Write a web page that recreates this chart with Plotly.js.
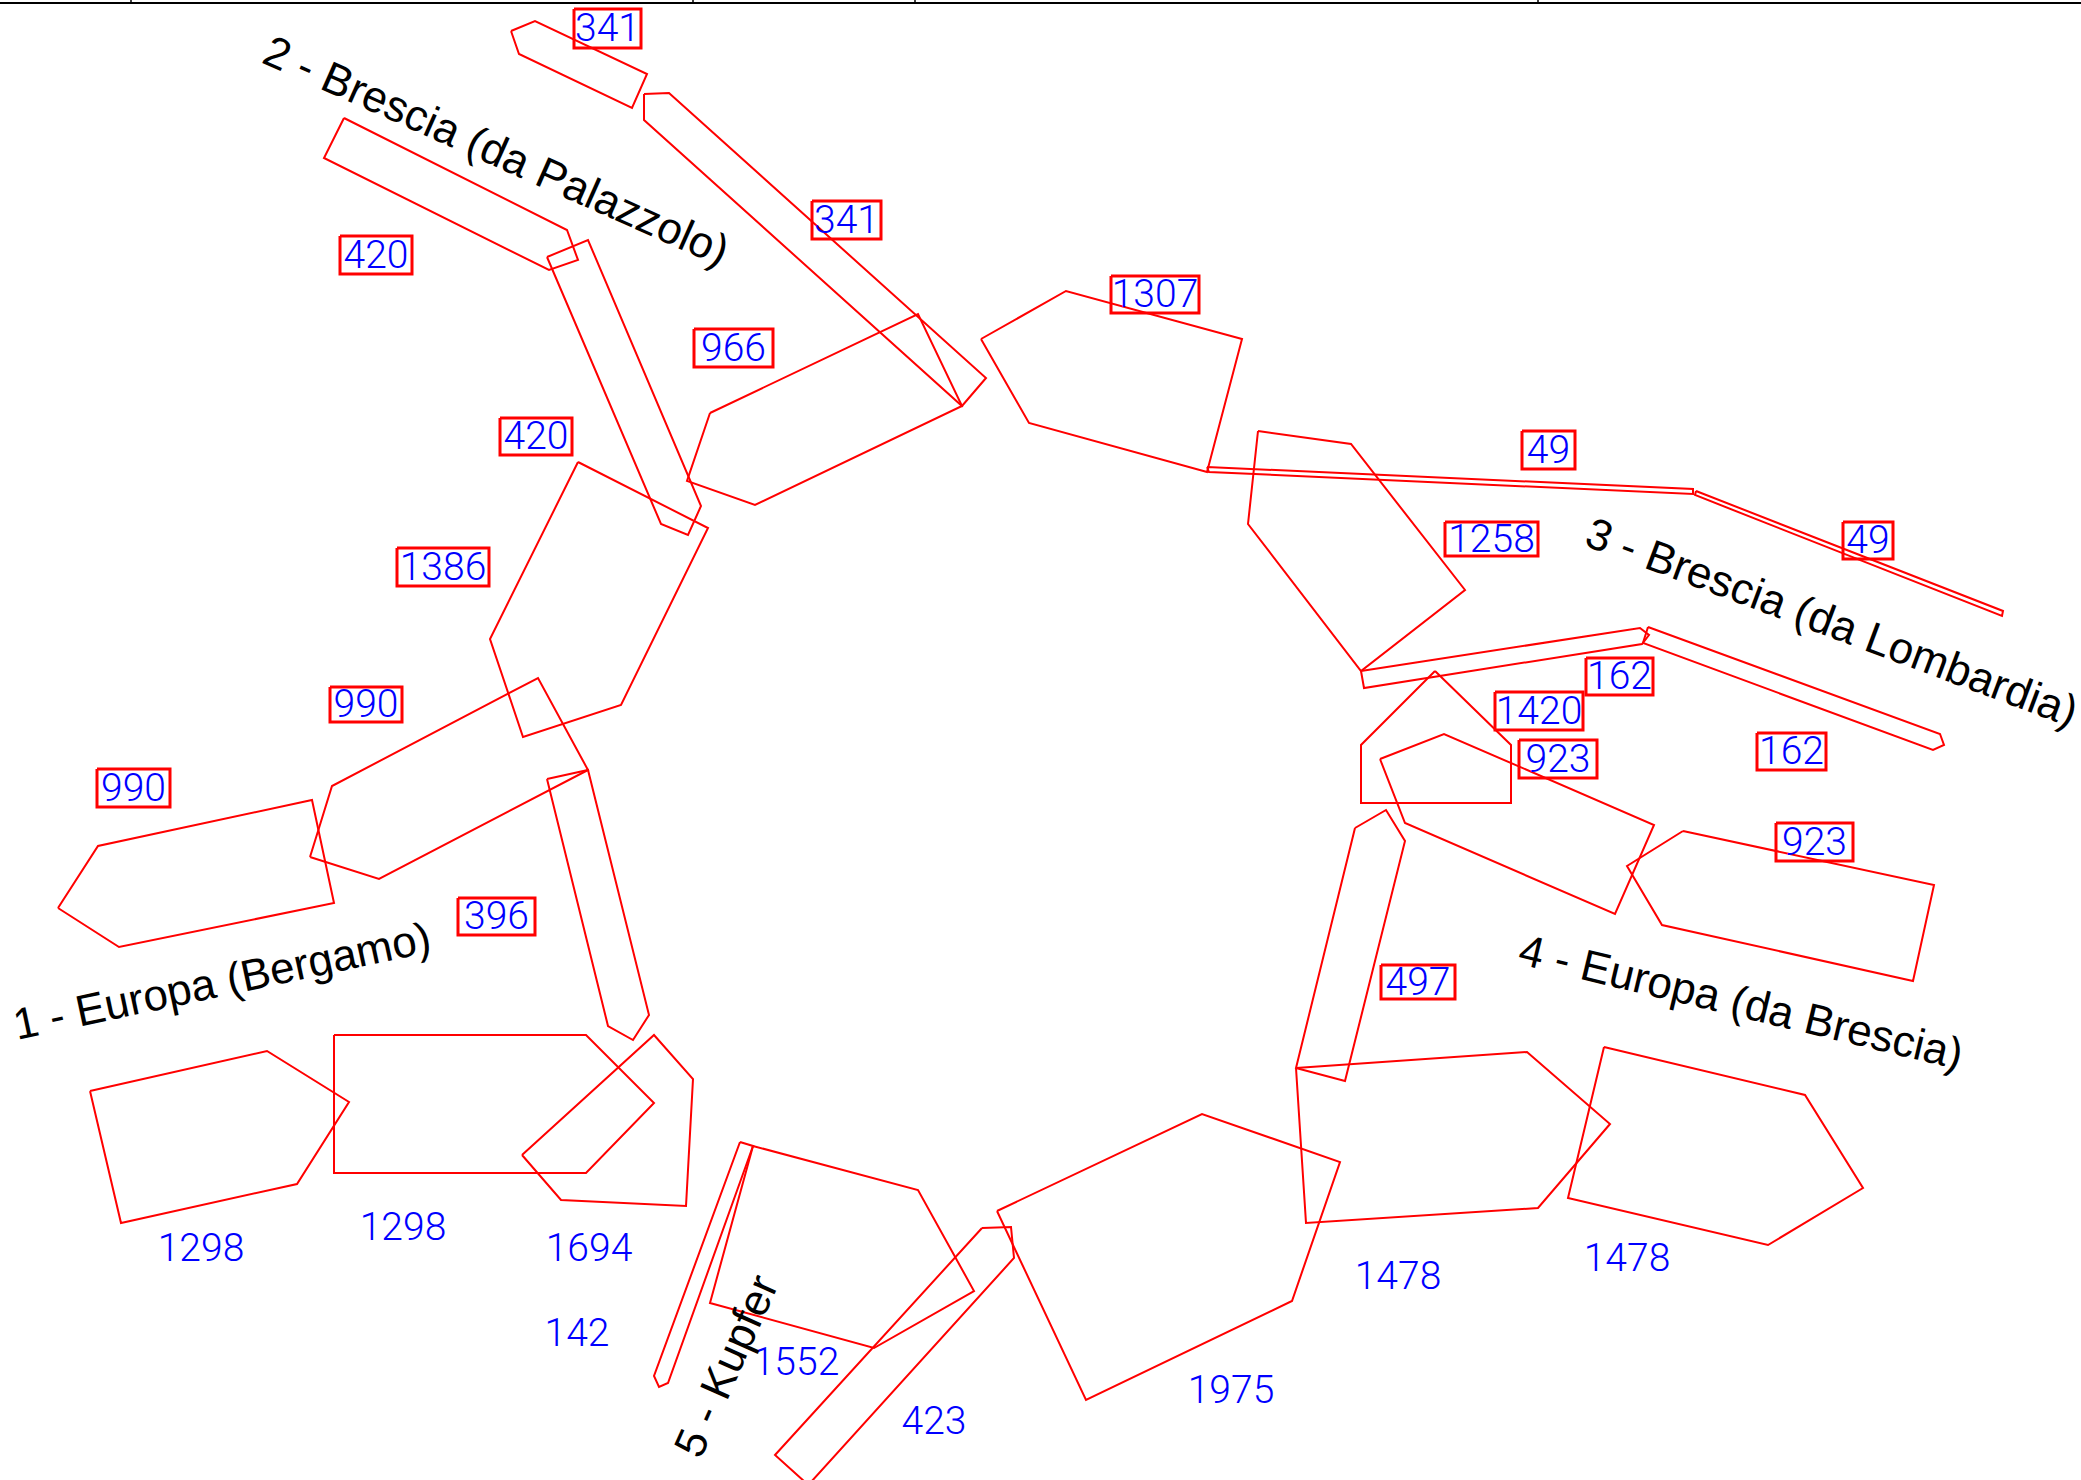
<!DOCTYPE html>
<html><head><meta charset="utf-8">
<script src="https://cdn.plot.ly/plotly-3.0.1.min.js"></script>
<style>html,body{margin:0;padding:0;background:#fff}#chart{width:2081px;height:1480px}</style>
</head><body><div id="chart"></div>
<script>
// Outlines, as [x, y] vertices in drawing units
const europaBergamo = [
  [[58,908],[98,846],[312,800],[334,903],[119,947]],
  [[310,857],[332,786],[538,678],[588,770],[379,879]],
  [[547,779],[588,770],[649,1015],[633,1040],[608,1026]],
  [[90,1091],[267,1051],[349,1102],[297,1184],[121,1223]],
  [[334,1035],[586,1035],[654,1103],[586,1173],[334,1173]],
  [[522,1155],[654,1035],[693,1079],[686,1206],[561,1200]]
];
const bresciaPalazzolo = [
  [[511,31],[535,21],[647,74],[632,108],[519,54]],
  [[644,94],[669,93],[986,378],[962,406],[644,120]],
  [[344,118],[567,230],[578,260],[549,270],[324,158]],
  [[547,257],[588,240],[701,506],[688,535],[661,524]],
  [[710,413],[918,314],[962,406],[755,505],[687,481]],
  [[578,462],[708,528],[621,705],[523,737],[490,639]]
];
const bresciaLombardia = [
  [[981,339],[1066,291],[1242,339],[1207,472],[1029,423]],
  [[1207,467],[1693,489],[1693,494],[1209,472]],
  [[1696,491],[2003,611],[2002,616],[1695,495]],
  [[1258,431],[1351,444],[1465,590],[1361,671],[1248,524]],
  [[1361,671],[1640,628],[1649,635],[1642,644],[1364,688]],
  [[1648,627],[1940,734],[1944,745],[1933,750],[1643,643]]
];
const europaBrescia = [
  [[1435,671],[1511,745],[1511,803],[1361,803],[1361,745]],
  [[1380,759],[1444,734],[1654,825],[1615,914],[1405,823]],
  [[1683,831],[1934,885],[1913,981],[1662,925],[1627,866]],
  [[1355,828],[1386,810],[1405,841],[1345,1081],[1296,1068]],
  [[1296,1068],[1527,1052],[1610,1124],[1538,1208],[1306,1223]],
  [[1604,1047],[1805,1095],[1863,1188],[1768,1245],[1568,1198]],
  [[997,1211],[1202,1114],[1340,1162],[1292,1301],[1086,1400]]
];
const kupfer = [
  [[740,1142],[753,1146],[668,1383],[659,1387],[654,1376]],
  [[753,1146],[918,1190],[974,1291],[874,1348],[710,1303]],
  [[982,1228],[1011,1227],[1014,1258],[811,1482],[805,1482],[775,1455]]
];
// Boxed number labels: text, box left, right, top, bottom
const boxedLabels = [
  ["341",574,641,9,48],["341",812,881,201,239],["420",340,412,236,274],
  ["966",694,773,329,367],["420",500,572,418,455],["1386",397,489,548,586],
  ["990",330,402,687,722],["990",97,170,769,807],["396",458,535,898,935],
  ["1307",1111,1199,276,313],["49",1522,1575,431,469],["1258",1445,1538,522,556],
  ["49",1843,1893,522,559],["162",1586,1653,658,695],["1420",1495,1583,692,730],
  ["923",1519,1597,740,778],["162",1757,1826,733,770],["923",1776,1853,823,861],
  ["497",1381,1455,965,999]
];
// Plain number labels: text, x, y
const plainLabels = [
  ["1298",201,1248],["1298",403,1227],["1694",589,1248],["142",577,1333],
  ["1552",796,1362],["423",934,1421],["1975",1231,1390],["1478",1398,1276],["1478",1627,1258]
];
// Group names: text, x, y, angle
const groupNames = [
  ["1 - Europa (Bergamo)",222,980,-12],
  ["2 - Brescia (da Palazzolo)",497,150,24],
  ["3 - Brescia (da Lombardia)",1832,621,20.5],
  ["4 - Europa (da Brescia)",1741,1001,13.5],
  ["5 - Kupfer",725,1366,-66]
];
const topRuleTicks = [131,693,915,1538];

const RED="#ff0000", BLUE="#0000ff";
const traces=[];
[europaBergamo,bresciaPalazzolo,bresciaLombardia,europaBrescia,kupfer].forEach(g=>g.forEach(p=>{
  const c=p.concat([p[0]]);
  traces.push({type:"scatter",mode:"lines",x:c.map(v=>v[0]),y:c.map(v=>v[1]),line:{color:RED,width:2},hoverinfo:"skip"});
}));
boxedLabels.forEach(b=>{
  traces.push({type:"scatter",mode:"lines",x:[b[1],b[2],b[2],b[1],b[1]],y:[b[3],b[3],b[4],b[4],b[3]],line:{color:RED,width:3},hoverinfo:"skip"});
});
const numFont={family:"Roboto",size:39,color:BLUE,weight:300};
const textShift=3;
traces.push({type:"scatter",mode:"text",x:boxedLabels.map(b=>(b[1]+b[2])/2),y:boxedLabels.map(b=>(b[3]+b[4])/2+textShift),
  text:boxedLabels.map(b=>b[0]),textposition:"middle center",textfont:numFont,hoverinfo:"skip"});
traces.push({type:"scatter",mode:"text",x:plainLabels.map(b=>b[1]),y:plainLabels.map(b=>b[2]+textShift),
  text:plainLabels.map(b=>b[0]),textposition:"middle center",textfont:numFont,hoverinfo:"skip"});
// top rule and ticks
traces.push({type:"scatter",mode:"lines",x:[0,2081],y:[3,3],line:{color:"#000",width:2},hoverinfo:"skip"});
topRuleTicks.forEach(t=>traces.push({type:"scatter",mode:"lines",x:[t,t],y:[0,3],line:{color:"#000",width:1.5},hoverinfo:"skip"}));

const annotations=groupNames.map(n=>({text:n[0],x:n[1],y:n[2],xref:"x",yref:"y",textangle:n[3],showarrow:false,
  xanchor:"center",yanchor:"middle",font:{family:"Liberation Sans",size:44,color:"#000"}}));

Plotly.newPlot("chart",traces,{
  width:2081,height:1480,margin:{l:0,r:0,t:0,b:0},showlegend:false,
  paper_bgcolor:"#fff",plot_bgcolor:"#fff",
  xaxis:{range:[0,2081],visible:false,fixedrange:true},
  yaxis:{range:[1480,0],visible:false,fixedrange:true},
  annotations
},{displayModeBar:false,staticPlot:true});
</script></body></html>
